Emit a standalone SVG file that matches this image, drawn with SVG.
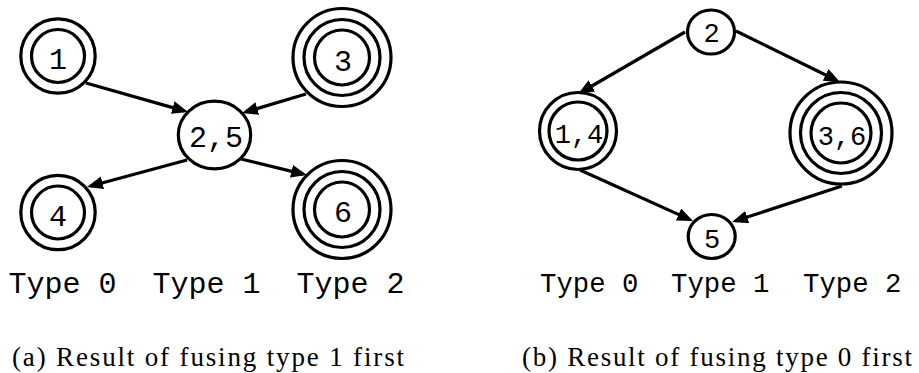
<svg xmlns="http://www.w3.org/2000/svg" width="919" height="373" viewBox="0 0 919 373">
  <style>
    .ring { fill: none; stroke: #000; stroke-width: 3.2; }
    .edge { fill: none; stroke: #000; stroke-width: 3.2; marker-end: url(#head); }
    .lbl { font-family: "Liberation Mono", "DejaVu Sans Mono", monospace; font-size: 30px; fill: #000; text-anchor: middle; }
    .lbl.sm { font-size: 27px; }
    .type { font-family: "Liberation Mono", "DejaVu Sans Mono", monospace; font-size: 30px; fill: #000; }
    .type.sm { font-size: 27.3px; }
    .cap { font-family: "Liberation Serif", "DejaVu Serif", serif; font-size: 27px; fill: #000; }
  </style>
  <defs>
    <marker id="head" markerUnits="userSpaceOnUse" markerWidth="18" markerHeight="14" refX="12" refY="6.5" orient="auto">
      <path d="M0,0 L16,6.5 L0,13 z" fill="#000"/>
    </marker>
  </defs>
  <rect width="919" height="373" fill="#fff"/>

  <!-- (a) type 1 fused first -->
  <g id="a-connectors">
    <line class="edge" x1="86" y1="83" x2="184.2" y2="110.9"/>
    <line class="edge" x1="306" y1="94" x2="245.8" y2="111.9"/>
    <line class="edge" x1="187" y1="160" x2="90.9" y2="186"/>
    <line class="edge" x1="241" y1="159" x2="303.1" y2="174.1"/>
  </g>
  <g id="a-n1">
    <circle class="ring" cx="58" cy="56" r="37.2"/>
    <circle class="ring" cx="58" cy="56" r="26.5"/>
    <text class="lbl" x="58" y="69">1</text>
  </g>
  <g id="a-n3">
    <circle class="ring" cx="342" cy="57.5" r="49"/>
    <circle class="ring" cx="342" cy="57.5" r="38"/>
    <circle class="ring" cx="342" cy="57.5" r="27.5"/>
    <text class="lbl" x="343" y="71">3</text>
  </g>
  <g id="a-n25">
    <ellipse class="ring" cx="214.5" cy="135" rx="36.2" ry="33.8"/>
    <text class="lbl" x="216" y="147">2,5</text>
  </g>
  <g id="a-n4">
    <circle class="ring" cx="58" cy="212.5" r="37.2"/>
    <circle class="ring" cx="58" cy="212.5" r="26.5"/>
    <text class="lbl" x="58" y="225.5">4</text>
  </g>
  <g id="a-n6">
    <circle class="ring" cx="342" cy="209.5" r="49"/>
    <circle class="ring" cx="342" cy="209.5" r="38"/>
    <circle class="ring" cx="342" cy="209.5" r="27.5"/>
    <text class="lbl" x="343" y="222">6</text>
  </g>
  <g id="a-types">
    <text class="type" x="8.5" y="293">Type 0</text>
    <text class="type" x="152.5" y="293">Type 1</text>
    <text class="type" x="296.5" y="293">Type 2</text>
  </g>
  <text class="cap" x="12" y="366" textLength="392">(a) Result of fusing type 1 first</text>

  <!-- (b) type 0 fused first -->
  <g id="b-connectors">
    <line class="edge" x1="685" y1="32" x2="581.5" y2="92"/>
    <line class="edge" x1="736" y1="31" x2="836.4" y2="80.2"/>
    <line class="edge" x1="580" y1="170" x2="689.4" y2="219.4"/>
    <line class="edge" x1="842" y1="186" x2="735.8" y2="220.8"/>
  </g>
  <g id="b-n2">
    <ellipse class="ring" cx="711" cy="32" rx="23.5" ry="22"/>
    <text class="lbl sm" x="711.5" y="42">2</text>
  </g>
  <g id="b-n14">
    <circle class="ring" cx="578" cy="131" r="38.5"/>
    <circle class="ring" cx="578" cy="131" r="29"/>
    <text class="lbl sm" x="579" y="143">1,4</text>
  </g>
  <g id="b-n36">
    <circle class="ring" cx="841" cy="133" r="51"/>
    <circle class="ring" cx="841" cy="133" r="40.5"/>
    <circle class="ring" cx="841" cy="133" r="30"/>
    <text class="lbl sm" x="842" y="145">3,6</text>
  </g>
  <g id="b-n5">
    <ellipse class="ring" cx="711.7" cy="236.5" rx="23.5" ry="22"/>
    <text class="lbl sm" x="712" y="248">5</text>
  </g>
  <g id="b-types">
    <text class="type sm" x="540" y="292">Type 0</text>
    <text class="type sm" x="671" y="292">Type 1</text>
    <text class="type sm" x="803" y="292">Type 2</text>
  </g>
  <text class="cap" x="522" y="366" textLength="390">(b) Result of fusing type 0 first</text>
</svg>
